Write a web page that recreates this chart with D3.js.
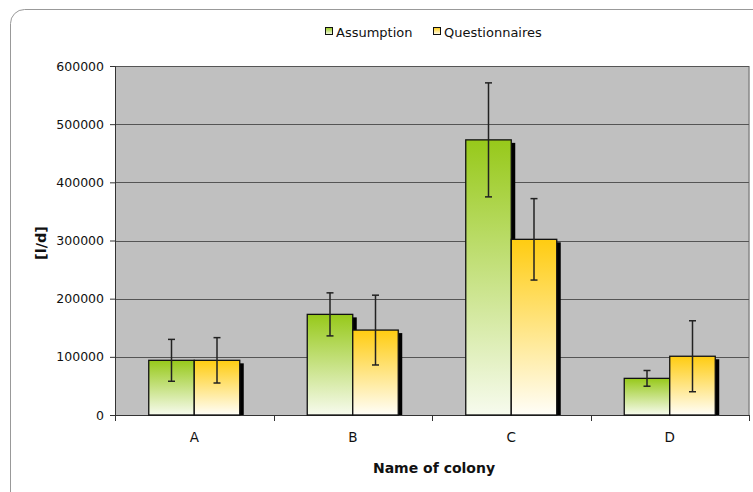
<!DOCTYPE html>
<html>
<head>
<meta charset="utf-8">
<script src="https://cdn.jsdelivr.net/npm/d3@7"></script>
<style>
  body { margin: 0; background: #fff; }
  svg { display: block; font-family: "DejaVu Sans", sans-serif; }
</style>
</head>
<body>
<svg id="chart" width="753" height="492"></svg>
<script>
"use strict";

// Values.
const categories = ["A", "B", "C", "D"];
const seriesNames = ["Assumption", "Questionnaires"];
const assumption = [94000, 173000, 473000, 63000];
const assumptionErr = [36000, 37000, 98000, 13500];
const questionnaires = [94000, 146000, 302000, 101000];
const questionnairesErr = [39000, 60000, 70000, 61000];
const yTicks = [0, 100000, 200000, 300000, 400000, 500000, 600000];

const svg = d3.select("#chart");
const margin = {top: 66, right: 4, bottom: 77, left: 115};
const W = 753, H = 492;
const innerW = W - margin.left - margin.right;
const innerH = H - margin.top - margin.bottom;

// Outer frame with rounded corners (runs off the right and bottom edges).
svg.append("rect")
    .attr("x", 10.5).attr("y", 9.5)
    .attr("width", 760).attr("height", 500)
    .attr("rx", 14)
    .style("fill", "none")
    .style("stroke", "#999")
    .style("stroke-width", "1px");

// Gradients for the bars.
let defs = svg.append("defs");
let grads = [["gGreen", "#97c91a", "#f7fbee"], ["gYellow", "#ffcc11", "#fffef8"]];
grads.forEach(function(g) {
    let lg = defs.append("linearGradient")
        .attr("id", g[0])
        .attr("x1", 0).attr("y1", 0).attr("x2", 0).attr("y2", 1);
    lg.append("stop").attr("offset", "0%").attr("stop-color", g[1]);
    lg.append("stop").attr("offset", "100%").attr("stop-color", g[2]);
});

let g = svg.append("g").attr("transform", "translate(" + margin.left + "," + margin.top + ")");

let x = d3.scaleBand().domain(categories).range([0, innerW]);
let y = d3.scaleLinear().domain([0, 600000]).range([innerH, 0]);

// Plot area.
g.append("rect")
    .attr("width", innerW).attr("height", innerH)
    .style("fill", "#c0c0c0");
g.append("line")
    .attr("x1", innerW).attr("x2", innerW).attr("y1", 0).attr("y2", innerH)
    .style("stroke", "#888").style("stroke-width", "1.5px");

// Gridlines.
g.selectAll(".grid").data(yTicks.slice(1))
    .enter().append("line")
    .attr("class", "grid")
    .attr("x1", 0).attr("x2", innerW)
    .attr("y1", d => Math.round(y(d)) + 0.5)
    .attr("y2", d => Math.round(y(d)) + 0.5)
    .style("stroke", "#555")
    .style("stroke-width", "1px");

// Y axis.
let yAxis = g.append("g")
    .call(d3.axisLeft(y).tickValues(yTicks).tickSize(5).tickPadding(6).tickFormat(d3.format("d")));
yAxis.select(".domain").style("stroke", "#333");
yAxis.selectAll(".tick line").style("stroke", "#333");
yAxis.selectAll("text").style("font-size", "12.5px").style("fill", "#111")
    .style("font-family", "DejaVu Sans, sans-serif");

// X axis.
let xAxis = g.append("g")
    .attr("transform", "translate(0," + innerH + ")")
    .call(d3.axisBottom(x).tickSize(0).tickPadding(17));
xAxis.select(".domain").style("stroke", "#333");
xAxis.selectAll("text").style("font-size", "13.5px").style("fill", "#111")
    .style("font-family", "DejaVu Sans, sans-serif");
// Category separators.
g.selectAll(".sep").data(d3.range(categories.length + 1))
    .enter().append("line")
    .attr("class", "sep")
    .attr("x1", d => Math.round(d * x.step()) + 0.5)
    .attr("x2", d => Math.round(d * x.step()) + 0.5)
    .attr("y1", innerH).attr("y2", innerH + 6)
    .style("stroke", "#333");

// Bars.
let barW = 45.5;
let series = [
    {vals: assumption, err: assumptionErr, fill: "url(#gGreen)", off: -barW},
    {vals: questionnaires, err: questionnairesErr, fill: "url(#gYellow)", off: 0}
];

// Shadows first (drawn behind all bars).
series.forEach(function(s) {
    g.selectAll(null).data(categories)
        .enter().append("rect")
        .attr("x", c => x(c) + x.bandwidth() / 2 + s.off + 4)
        .attr("y", (c, i) => y(s.vals[i]) + 3)
        .attr("width", barW)
        .attr("height", (c, i) => innerH - y(s.vals[i]) - 3)
        .style("fill", "#000");
});
series.forEach(function(s) {
    g.selectAll(null).data(categories)
        .enter().append("rect")
        .attr("x", c => x(c) + x.bandwidth() / 2 + s.off)
        .attr("y", (c, i) => y(s.vals[i]))
        .attr("width", barW)
        .attr("height", (c, i) => innerH - y(s.vals[i]))
        .style("fill", s.fill)
        .style("stroke", "#111")
        .style("stroke-width", "1.3px");
});

// Error bars.
series.forEach(function(s) {
    categories.forEach(function(c, i) {
        let cx = x(c) + x.bandwidth() / 2 + s.off + barW / 2;
        let top = y(s.vals[i] + s.err[i]), bot = y(s.vals[i] - s.err[i]);
        let eg = g.append("g").style("stroke", "#222").style("stroke-width", "1.5px");
        eg.append("line").attr("x1", cx).attr("x2", cx).attr("y1", top).attr("y2", bot);
        eg.append("line").attr("x1", cx - 3.5).attr("x2", cx + 3.5).attr("y1", top).attr("y2", top);
        eg.append("line").attr("x1", cx - 3.5).attr("x2", cx + 3.5).attr("y1", bot).attr("y2", bot);
    });
});

// Axis titles.
svg.append("text")
    .attr("x", 434)
    .attr("y", 473)
    .style("text-anchor", "middle")
    .style("font-size", "14px")
    .style("font-weight", "bold")
    .style("fill", "#111")
    .text("Name of colony");
svg.append("text")
    .attr("transform", "translate(46,243) rotate(-90)")
    .style("text-anchor", "middle")
    .style("font-size", "14.5px")
    .style("font-weight", "bold")
    .style("fill", "#111")
    .text("[l/d]");

// Legend.
let legendX = [325, 433];
let legendFill = ["url(#gGreen)", "url(#gYellow)"];
seriesNames.forEach(function(name, i) {
    svg.append("rect")
        .attr("x", legendX[i] + 0.5).attr("y", 27.5)
        .attr("width", 7).attr("height", 7)
        .style("fill", legendFill[i])
        .style("stroke", "#111");
    svg.append("text")
        .attr("x", legendX[i] + 11).attr("y", 36.5)
        .style("font-size", "13px")
        .style("fill", "#111")
        .text(name);
});
</script>
</body>
</html>
